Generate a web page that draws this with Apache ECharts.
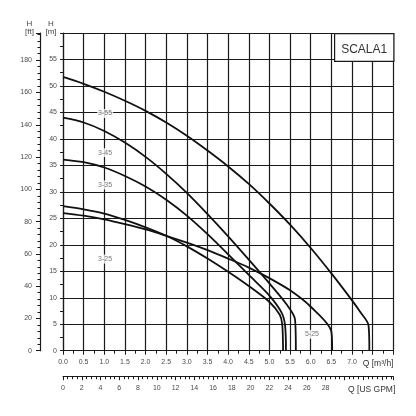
<!DOCTYPE html>
<html><head><meta charset="utf-8">
<script src="https://cdn.jsdelivr.net/npm/echarts@6/dist/echarts.min.js"></script>
<style>html,body{margin:0;padding:0;background:#fff}#c{width:416px;height:416px}</style>
</head><body><div id="c"></div>
<script>
// Pump curves (Q in m3/h, H in m)
const curveNames = ['3-55', '3-45', '3-35', '3-25', '5-25'];
const q_3_55 = [0, 0.5, 1.0, 1.5, 2.0, 2.5, 3.0, 3.5, 4.0, 4.5, 5.0, 5.5, 6.0, 6.5, 7.0, 7.2, 7.4, 7.42];
const h_3_55 = [51.7, 50.4, 48.9, 47.2, 45.3, 43.1, 40.6, 37.8, 34.8, 31.5, 27.8, 23.8, 19.4, 14.6, 9.5, 7.3, 4.8, 0];
const q_3_45 = [0, 0.5, 1.0, 1.5, 2.0, 2.5, 3.0, 3.5, 4.0, 4.5, 5.0, 5.4, 5.62, 5.64];
const h_3_45 = [44.0, 43.1, 41.5, 39.3, 36.6, 33.4, 29.8, 25.8, 21.6, 17.2, 12.7, 8.9, 5.9, 0];
const q_3_35 = [0, 0.5, 1.0, 1.5, 2.0, 2.5, 3.0, 3.5, 4.0, 4.5, 5.0, 5.3, 5.38, 5.40];
const h_3_35 = [36.1, 35.6, 34.6, 33.0, 31.0, 28.5, 25.5, 22.0, 18.2, 14.3, 10.4, 7.1, 4.7, 0];
const q_3_25 = [0, 0.5, 1.0, 1.5, 2.0, 2.5, 3.0, 3.5, 4.0, 4.5, 5.0, 5.25, 5.31, 5.33];
const h_3_25 = [27.3, 26.7, 25.9, 24.7, 23.3, 21.7, 19.7, 17.4, 14.9, 12.2, 9.2, 6.8, 5.0, 0];
const q_5_25 = [0, 0.5, 1.0, 1.5, 2.0, 2.5, 3.0, 3.5, 4.0, 4.5, 5.0, 5.5, 6.0, 6.5, 6.52];
const h_5_25 = [26.0, 25.5, 24.8, 23.9, 22.9, 21.7, 20.4, 19.0, 17.4, 15.7, 13.7, 11.4, 8.3, 3.6, 0];

// curve label anchors (Q, H)
const labelQ = [1.02, 1.02, 1.02, 1.02, 6.03];
const labelH = [44.8, 37.4, 31.3, 17.3, 3.1];

// axes
const qMax = 8, qInterval = 0.5, qLabelMax = 7.0;
const hMax = 60, hInterval = 5, hLabelMax = 55;
const ftInterval = 20, ftLabelMax = 180;
const gpmInterval = 2, gpmLabelMax = 28;
const M_TO_FT = 3.28084;
const M3H_TO_GPM = 4.40287;
const chartTitle = 'SCALA1';

const curvesQ = [q_3_55, q_3_45, q_3_35, q_3_25, q_5_25];
const curvesH = [h_3_55, h_3_45, h_3_35, h_3_25, h_5_25];

const INK = '#1a1a1a', TXT = '#4a4a4a', FONT = '"Liberation Sans", Arial, sans-serif';

const chart = echarts.init(document.getElementById('c'), null, {renderer: 'canvas'});

const lineSeries = curveNames.map((n, i) => ({
  name: n, type: 'line', xAxisIndex: 0, yAxisIndex: 0,
  data: curvesQ[i].map((q, j) => [q, curvesH[i][j]]),
  showSymbol: false, smooth: 0.3,
  lineStyle: {color: '#111', width: 1.8}, z: 3, silent: true
}));

const labelSeries = {
  type: 'scatter', xAxisIndex: 0, yAxisIndex: 0, symbolSize: 0, z: 5, silent: true,
  data: curveNames.map((n, i) => ({name: n, value: [labelQ[i], labelH[i]]})),
  label: {show: true, position: 'inside', formatter: p => p.name, color: '#555',
    fontSize: 7, fontFamily: FONT, backgroundColor: '#fff', padding: [1, 1]}
};

const tickText = {color: TXT, fontSize: 7, fontFamily: FONT};

chart.setOption({
  animation: false,
  backgroundColor: '#fff',
  grid: {left: 63, right: 22.7, top: 33, bottom: 65.3, containLabel: false},
  xAxis: [{
    type: 'value', min: 0, max: qMax, interval: qInterval, position: 'bottom',
    axisLine: {show: true, onZero: false, lineStyle: {color: INK, width: 1.2}},
    axisTick: {show: true, inside: false, length: 4, lineStyle: {color: INK}},
    minorTick: {show: true, splitNumber: 2, length: 3, lineStyle: {color: INK}},
    splitLine: {show: true, lineStyle: {color: INK, width: 1.2}},
    axisLabel: Object.assign({margin: 8, formatter: v => v <= qLabelMax + 1e-6 ? v.toFixed(1) : ''}, tickText),
    name: 'Q [m³/h]', nameLocation: 'end', nameGap: 0,
    nameTextStyle: {color: '#333', fontSize: 8.5, fontFamily: FONT, align: 'right', verticalAlign: 'top', padding: [8, 0, 0, 0]}
  }, {
    type: 'value', min: 0, max: qMax * M3H_TO_GPM, interval: gpmInterval, position: 'bottom', offset: 26,
    axisLine: {show: true, onZero: false, lineStyle: {color: INK, width: 1.2}},
    axisTick: {show: true, inside: false, length: 3.5, lineStyle: {color: INK}},
    minorTick: {show: true, splitNumber: 4, length: 2.5, lineStyle: {color: INK}},
    splitLine: {show: false},
    axisLabel: Object.assign({margin: 8, showMaxLabel: false, formatter: v => (v <= gpmLabelMax && Math.abs(v % 2) < 1e-6) ? String(v) : ''}, tickText),
    name: 'Q [US GPM]', nameLocation: 'end', nameGap: 2,
    nameTextStyle: {color: '#333', fontSize: 8.5, fontFamily: FONT, align: 'right', verticalAlign: 'top', padding: [8, 0, 0, 0]}
  }],
  yAxis: [{
    type: 'value', min: 0, max: hMax, interval: hInterval, position: 'left',
    axisLine: {show: true, onZero: false, lineStyle: {color: INK, width: 1.2}},
    axisTick: {show: true, inside: false, length: 3, lineStyle: {color: INK}},
    minorTick: {show: true, splitNumber: 2, length: 3, lineStyle: {color: INK}},
    splitLine: {show: true, lineStyle: {color: INK, width: 1.2}},
    axisLabel: Object.assign({margin: 6, formatter: v => v <= hLabelMax ? String(v) : ''}, tickText),
    name: 'H\n[m]', nameLocation: 'end', nameGap: -3,
    nameTextStyle: {color: '#444', fontSize: 8, lineHeight: 8, fontFamily: FONT, align: 'center', verticalAlign: 'bottom', padding: [0, 24, 0, 0]}
  }, {
    type: 'value', min: 0, max: hMax * M_TO_FT, interval: ftInterval, position: 'left', offset: 23,
    axisLine: {show: true, onZero: false, lineStyle: {color: INK, width: 1.2}},
    axisTick: {show: true, inside: false, length: 4, lineStyle: {color: INK}},
    minorTick: {show: true, splitNumber: 5, length: 2.5, lineStyle: {color: INK}},
    splitLine: {show: false},
    axisLabel: Object.assign({margin: 8, showMaxLabel: false, formatter: v => (v <= ftLabelMax && Math.abs(v % 20) < 1e-6) ? String(v) : ''}, tickText),
    name: 'H\n[ft]', nameLocation: 'end', nameGap: -3,
    nameTextStyle: {color: '#444', fontSize: 8, lineHeight: 8, fontFamily: FONT, align: 'center', verticalAlign: 'bottom', padding: [0, 21, 0, 0]}
  }],
  graphic: [{
    type: 'group', left: 334, top: 33, z: 100,
    children: [
      {type: 'rect', shape: {x: 0, y: 0, width: 59.3, height: 27.7}, style: {fill: '#fff', stroke: INK, lineWidth: 1.2}, z: 100},
      {type: 'text', x: 29.6, y: 16, z: 101, style: {text: chartTitle, align: 'center', verticalAlign: 'middle', fill: '#333', fontSize: 12, fontFamily: FONT}}
    ]
  }],
  series: lineSeries.concat([labelSeries])
});
</script>
</body></html>
